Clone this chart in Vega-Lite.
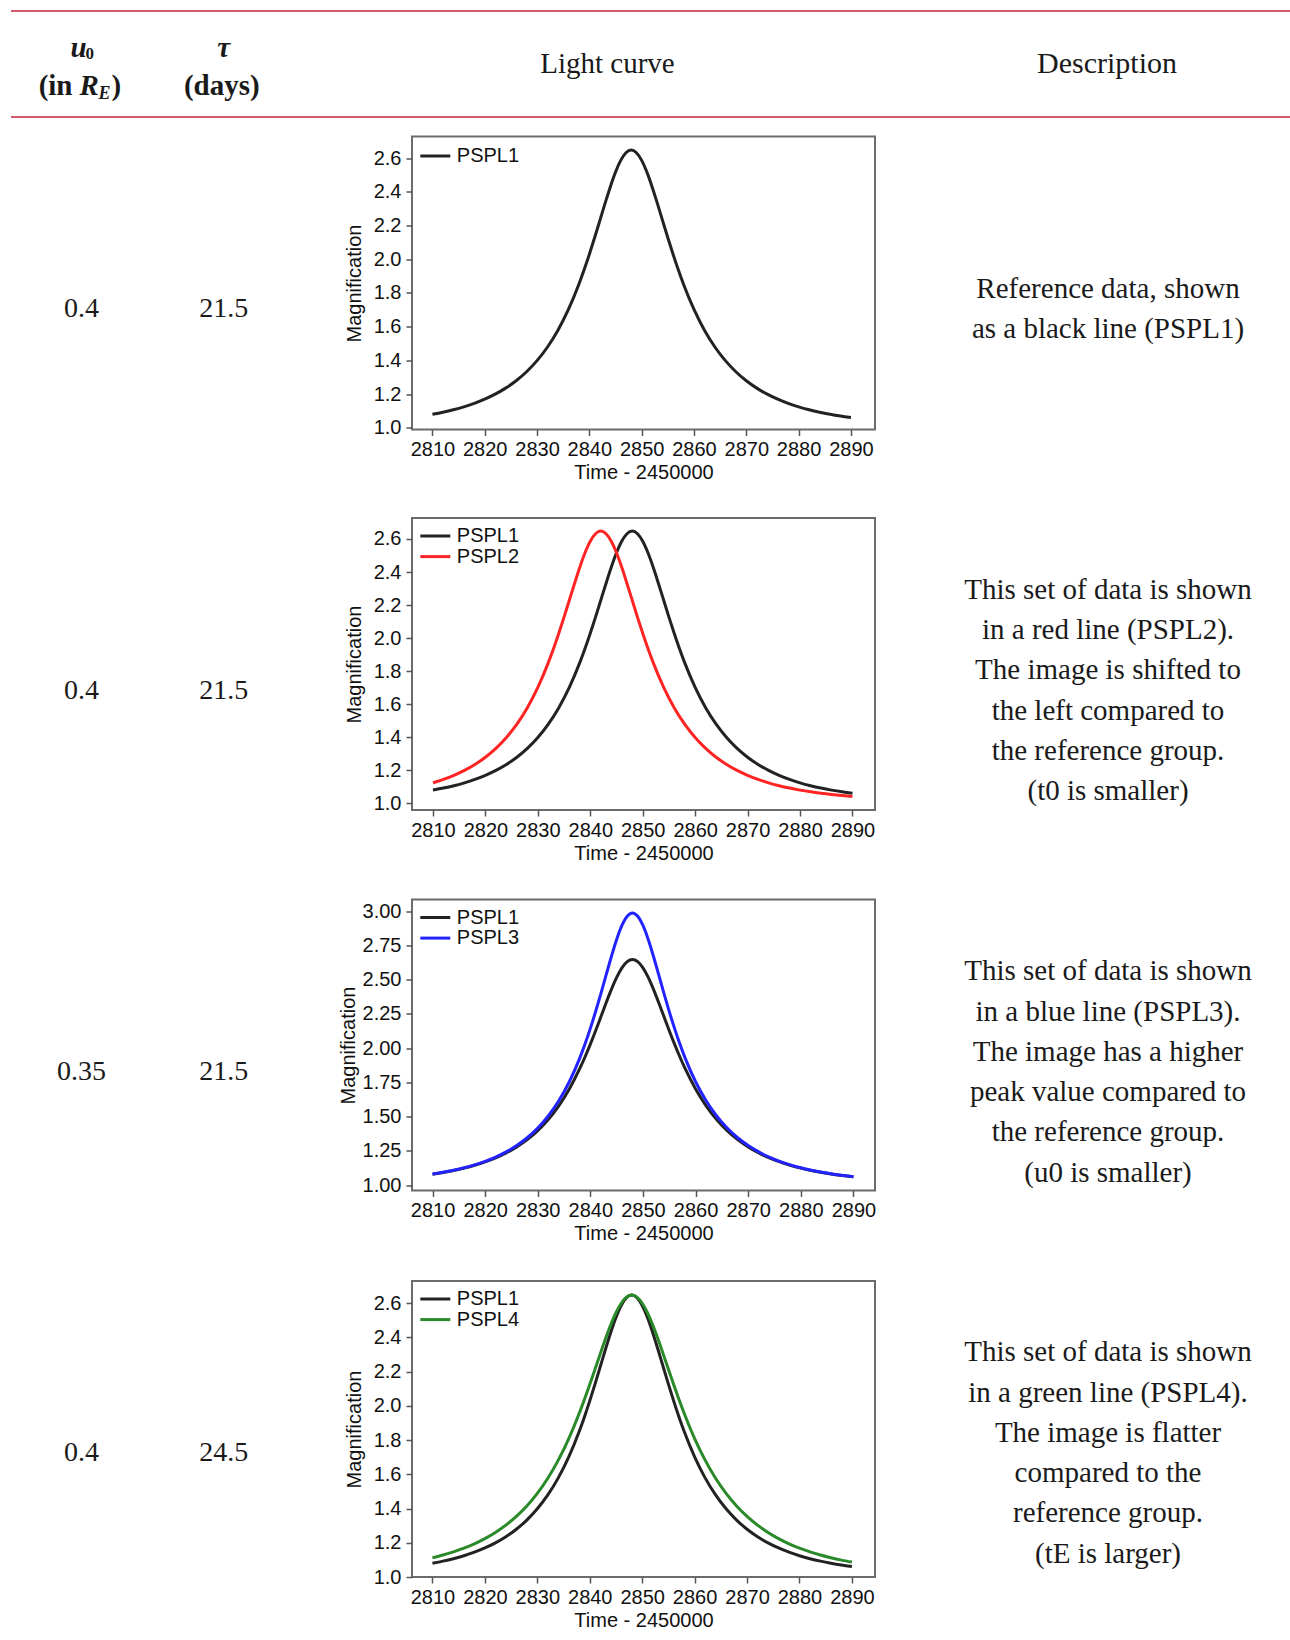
{
  "$schema": "https://vega.github.io/schema/vega-lite/v6.json",
  "background": "white",
  "padding": {"left": 10, "top": 10, "right": 0, "bottom": 0},
  "columns": 3,
  "spacing": {"row": 19.5, "column": 0},
  "bounds": "flush",
  "align": "each",
  "resolve": {"scale": {"x": "independent", "y": "independent", "color": "independent"}, "legend": {"color": "independent"}},
  "config": {
    "view": {"stroke": null},
    "text": {"font": "Liberation Serif", "color": "#1a1a1a"},
    "axis": {
      "domain": false, "grid": false,
      "labelFont": "Liberation Sans", "labelFontSize": 20, "labelColor": "#111111", "labelPadding": 5,
      "labelOverlap": false, "labelFlush": false,
      "titleFont": "Liberation Sans", "titleFontSize": 20, "titleFontWeight": "normal", "titleColor": "#111111",
      "tickColor": "#555555", "tickSize": 6, "tickWidth": 1.5
    },
    "axisX": {"titlePadding": 3, "labelPadding": 4},
    "axisY": {"titlePadding": 9}
  },
  "datasets": {
    "edges": [{"edge": "top"}, {"edge": "bottom"}],
    "hdr": [
      {"p": "main", "col": "u0", "t": "u"},
      {"p": "main", "col": "tau", "t": "τ"},
      {"p": "sub0", "col": "u0", "t": "0"},
      {"p": "in", "col": "u0", "t": "(in"},
      {"p": "R", "col": "u0", "t": "R"},
      {"p": "E", "col": "u0", "t": "E"},
      {"p": "close", "col": "u0", "t": ")"},
      {"p": "days", "col": "tau", "t": "(days)"}
    ],
    "params": [
      {"row": 1, "col": "u0", "v": "0.4"}, {"row": 1, "col": "tau", "v": "21.5"},
      {"row": 2, "col": "u0", "v": "0.4"}, {"row": 2, "col": "tau", "v": "21.5"},
      {"row": 3, "col": "u0", "v": "0.35"}, {"row": 3, "col": "tau", "v": "21.5"},
      {"row": 4, "col": "u0", "v": "0.4"}, {"row": 4, "col": "tau", "v": "24.5"}
    ],
    "desc": [
      {"row": 1, "d": "Reference data, shown\nas a black line (PSPL1)"},
      {"row": 2, "d": "This set of data is shown\nin a red line (PSPL2).\nThe image is shifted to\nthe left compared to\nthe reference group.\n(t0 is smaller)"},
      {"row": 3, "d": "This set of data is shown\nin a blue line (PSPL3).\nThe image has a higher\npeak value compared to\nthe reference group.\n(u0 is smaller)"},
      {"row": 4, "d": "This set of data is shown\nin a green line (PSPL4).\nThe image is flatter\ncompared to the\nreference group.\n(tE is larger)"}
    ],
    "curves": [
      {"s":"PSPL1","t":2810,"m":1.0804},{"s":"PSPL1","t":2812,"m":1.0926},{"s":"PSPL1","t":2814,"m":1.1071},{"s":"PSPL1","t":2816,"m":1.1243},{"s":"PSPL1","t":2818,"m":1.1449},{"s":"PSPL1","t":2820,"m":1.1696},{"s":"PSPL1","t":2822,"m":1.1994},{"s":"PSPL1","t":2824,"m":1.2354},{"s":"PSPL1","t":2826,"m":1.2792},{"s":"PSPL1","t":2828,"m":1.3328},{"s":"PSPL1","t":2830,"m":1.3985},{"s":"PSPL1","t":2832,"m":1.4795},{"s":"PSPL1","t":2834,"m":1.5793},{"s":"PSPL1","t":2836,"m":1.7021},{"s":"PSPL1","t":2838,"m":1.8517},{"s":"PSPL1","t":2839,"m":1.9371},{"s":"PSPL1","t":2840,"m":2.0293},{"s":"PSPL1","t":2841,"m":2.1272},{"s":"PSPL1","t":2842,"m":2.2289},{"s":"PSPL1","t":2843,"m":2.3310},{"s":"PSPL1","t":2844,"m":2.4290},{"s":"PSPL1","t":2845,"m":2.5165},{"s":"PSPL1","t":2846,"m":2.5864},{"s":"PSPL1","t":2847,"m":2.6318},{"s":"PSPL1","t":2848,"m":2.6476},{"s":"PSPL1","t":2849,"m":2.6318},{"s":"PSPL1","t":2850,"m":2.5864},{"s":"PSPL1","t":2851,"m":2.5165},{"s":"PSPL1","t":2852,"m":2.4290},{"s":"PSPL1","t":2853,"m":2.3310},{"s":"PSPL1","t":2854,"m":2.2289},{"s":"PSPL1","t":2855,"m":2.1272},{"s":"PSPL1","t":2856,"m":2.0293},{"s":"PSPL1","t":2857,"m":1.9371},{"s":"PSPL1","t":2858,"m":1.8517},{"s":"PSPL1","t":2860,"m":1.7021},{"s":"PSPL1","t":2862,"m":1.5793},{"s":"PSPL1","t":2864,"m":1.4795},{"s":"PSPL1","t":2866,"m":1.3985},{"s":"PSPL1","t":2868,"m":1.3328},{"s":"PSPL1","t":2870,"m":1.2792},{"s":"PSPL1","t":2872,"m":1.2354},{"s":"PSPL1","t":2874,"m":1.1994},{"s":"PSPL1","t":2876,"m":1.1696},{"s":"PSPL1","t":2878,"m":1.1449},{"s":"PSPL1","t":2880,"m":1.1243},{"s":"PSPL1","t":2882,"m":1.1071},{"s":"PSPL1","t":2884,"m":1.0926},{"s":"PSPL1","t":2886,"m":1.0804},{"s":"PSPL1","t":2888,"m":1.0700},{"s":"PSPL1","t":2890,"m":1.0612},
      {"s":"PSPL2","t":2810,"m":1.1243},{"s":"PSPL2","t":2812,"m":1.1449},{"s":"PSPL2","t":2814,"m":1.1696},{"s":"PSPL2","t":2816,"m":1.1994},{"s":"PSPL2","t":2818,"m":1.2354},{"s":"PSPL2","t":2820,"m":1.2792},{"s":"PSPL2","t":2822,"m":1.3328},{"s":"PSPL2","t":2824,"m":1.3985},{"s":"PSPL2","t":2826,"m":1.4795},{"s":"PSPL2","t":2828,"m":1.5793},{"s":"PSPL2","t":2830,"m":1.7021},{"s":"PSPL2","t":2832,"m":1.8517},{"s":"PSPL2","t":2833,"m":1.9371},{"s":"PSPL2","t":2834,"m":2.0293},{"s":"PSPL2","t":2835,"m":2.1272},{"s":"PSPL2","t":2836,"m":2.2289},{"s":"PSPL2","t":2837,"m":2.3310},{"s":"PSPL2","t":2838,"m":2.4290},{"s":"PSPL2","t":2839,"m":2.5165},{"s":"PSPL2","t":2840,"m":2.5864},{"s":"PSPL2","t":2841,"m":2.6318},{"s":"PSPL2","t":2842,"m":2.6476},{"s":"PSPL2","t":2843,"m":2.6318},{"s":"PSPL2","t":2844,"m":2.5864},{"s":"PSPL2","t":2845,"m":2.5165},{"s":"PSPL2","t":2846,"m":2.4290},{"s":"PSPL2","t":2847,"m":2.3310},{"s":"PSPL2","t":2848,"m":2.2289},{"s":"PSPL2","t":2849,"m":2.1272},{"s":"PSPL2","t":2850,"m":2.0293},{"s":"PSPL2","t":2851,"m":1.9371},{"s":"PSPL2","t":2852,"m":1.8517},{"s":"PSPL2","t":2854,"m":1.7021},{"s":"PSPL2","t":2856,"m":1.5793},{"s":"PSPL2","t":2858,"m":1.4795},{"s":"PSPL2","t":2860,"m":1.3985},{"s":"PSPL2","t":2862,"m":1.3328},{"s":"PSPL2","t":2864,"m":1.2792},{"s":"PSPL2","t":2866,"m":1.2354},{"s":"PSPL2","t":2868,"m":1.1994},{"s":"PSPL2","t":2870,"m":1.1696},{"s":"PSPL2","t":2872,"m":1.1449},{"s":"PSPL2","t":2874,"m":1.1243},{"s":"PSPL2","t":2876,"m":1.1071},{"s":"PSPL2","t":2878,"m":1.0926},{"s":"PSPL2","t":2880,"m":1.0804},{"s":"PSPL2","t":2882,"m":1.0700},{"s":"PSPL2","t":2884,"m":1.0612},{"s":"PSPL2","t":2886,"m":1.0537},{"s":"PSPL2","t":2888,"m":1.0472},{"s":"PSPL2","t":2890,"m":1.0416},
      {"s":"PSPL3","t":2810,"m":1.0817},{"s":"PSPL3","t":2812,"m":1.0942},{"s":"PSPL3","t":2814,"m":1.1092},{"s":"PSPL3","t":2816,"m":1.1269},{"s":"PSPL3","t":2818,"m":1.1482},{"s":"PSPL3","t":2820,"m":1.1739},{"s":"PSPL3","t":2822,"m":1.2049},{"s":"PSPL3","t":2824,"m":1.2427},{"s":"PSPL3","t":2826,"m":1.2890},{"s":"PSPL3","t":2828,"m":1.3460},{"s":"PSPL3","t":2830,"m":1.4167},{"s":"PSPL3","t":2832,"m":1.5049},{"s":"PSPL3","t":2834,"m":1.6155},{"s":"PSPL3","t":2836,"m":1.7546},{"s":"PSPL3","t":2838,"m":1.9290},{"s":"PSPL3","t":2839,"m":2.0313},{"s":"PSPL3","t":2840,"m":2.1442},{"s":"PSPL3","t":2841,"m":2.2671},{"s":"PSPL3","t":2842,"m":2.3984},{"s":"PSPL3","t":2843,"m":2.5345},{"s":"PSPL3","t":2844,"m":2.6691},{"s":"PSPL3","t":2845,"m":2.7933},{"s":"PSPL3","t":2846,"m":2.8953},{"s":"PSPL3","t":2847,"m":2.9630},{"s":"PSPL3","t":2848,"m":2.9867},{"s":"PSPL3","t":2849,"m":2.9630},{"s":"PSPL3","t":2850,"m":2.8953},{"s":"PSPL3","t":2851,"m":2.7933},{"s":"PSPL3","t":2852,"m":2.6691},{"s":"PSPL3","t":2853,"m":2.5345},{"s":"PSPL3","t":2854,"m":2.3984},{"s":"PSPL3","t":2855,"m":2.2671},{"s":"PSPL3","t":2856,"m":2.1442},{"s":"PSPL3","t":2857,"m":2.0313},{"s":"PSPL3","t":2858,"m":1.9290},{"s":"PSPL3","t":2860,"m":1.7546},{"s":"PSPL3","t":2862,"m":1.6155},{"s":"PSPL3","t":2864,"m":1.5049},{"s":"PSPL3","t":2866,"m":1.4167},{"s":"PSPL3","t":2868,"m":1.3460},{"s":"PSPL3","t":2870,"m":1.2890},{"s":"PSPL3","t":2872,"m":1.2427},{"s":"PSPL3","t":2874,"m":1.2049},{"s":"PSPL3","t":2876,"m":1.1739},{"s":"PSPL3","t":2878,"m":1.1482},{"s":"PSPL3","t":2880,"m":1.1269},{"s":"PSPL3","t":2882,"m":1.1092},{"s":"PSPL3","t":2884,"m":1.0942},{"s":"PSPL3","t":2886,"m":1.0817},{"s":"PSPL3","t":2888,"m":1.0711},{"s":"PSPL3","t":2890,"m":1.0620},
      {"s":"PSPL4","t":2810,"m":1.1124},{"s":"PSPL4","t":2812,"m":1.1283},{"s":"PSPL4","t":2814,"m":1.1468},{"s":"PSPL4","t":2816,"m":1.1685},{"s":"PSPL4","t":2818,"m":1.1941},{"s":"PSPL4","t":2820,"m":1.2244},{"s":"PSPL4","t":2822,"m":1.2603},{"s":"PSPL4","t":2824,"m":1.3030},{"s":"PSPL4","t":2826,"m":1.3541},{"s":"PSPL4","t":2828,"m":1.4152},{"s":"PSPL4","t":2830,"m":1.4887},{"s":"PSPL4","t":2832,"m":1.5770},{"s":"PSPL4","t":2834,"m":1.6830},{"s":"PSPL4","t":2836,"m":1.8092},{"s":"PSPL4","t":2838,"m":1.9572},{"s":"PSPL4","t":2839,"m":2.0390},{"s":"PSPL4","t":2840,"m":2.1251},{"s":"PSPL4","t":2841,"m":2.2142},{"s":"PSPL4","t":2842,"m":2.3041},{"s":"PSPL4","t":2843,"m":2.3919},{"s":"PSPL4","t":2844,"m":2.4736},{"s":"PSPL4","t":2845,"m":2.5446},{"s":"PSPL4","t":2846,"m":2.6000},{"s":"PSPL4","t":2847,"m":2.6354},{"s":"PSPL4","t":2848,"m":2.6476},{"s":"PSPL4","t":2849,"m":2.6354},{"s":"PSPL4","t":2850,"m":2.6000},{"s":"PSPL4","t":2851,"m":2.5446},{"s":"PSPL4","t":2852,"m":2.4736},{"s":"PSPL4","t":2853,"m":2.3919},{"s":"PSPL4","t":2854,"m":2.3041},{"s":"PSPL4","t":2855,"m":2.2142},{"s":"PSPL4","t":2856,"m":2.1251},{"s":"PSPL4","t":2857,"m":2.0390},{"s":"PSPL4","t":2858,"m":1.9572},{"s":"PSPL4","t":2860,"m":1.8092},{"s":"PSPL4","t":2862,"m":1.6830},{"s":"PSPL4","t":2864,"m":1.5770},{"s":"PSPL4","t":2866,"m":1.4887},{"s":"PSPL4","t":2868,"m":1.4152},{"s":"PSPL4","t":2870,"m":1.3541},{"s":"PSPL4","t":2872,"m":1.3030},{"s":"PSPL4","t":2874,"m":1.2603},{"s":"PSPL4","t":2876,"m":1.2244},{"s":"PSPL4","t":2878,"m":1.1941},{"s":"PSPL4","t":2880,"m":1.1685},{"s":"PSPL4","t":2882,"m":1.1468},{"s":"PSPL4","t":2884,"m":1.1283},{"s":"PSPL4","t":2886,"m":1.1124},{"s":"PSPL4","t":2888,"m":1.0988},{"s":"PSPL4","t":2890,"m":1.0871}
    ]
  },
  "concat": [
    {
      "width": 401, "height": 106,
      "layer": [
        {"data": {"name": "edges"}, "mark": {"type": "rule", "color": "#c8203c", "strokeWidth": 1.5},
         "encoding": {"y": {"field": "edge", "type": "nominal", "scale": {"type": "point", "domain": ["top", "bottom"], "padding": 0}, "axis": null}}},
        {"data": {"name": "hdr"}, "transform": [{"filter": "datum.p === 'main'"}],
         "mark": {"type": "text", "fontSize": 29, "fontWeight": "bold", "fontStyle": "italic", "baseline": "alphabetic", "align": "center", "dy": -6.75},
         "encoding": {"x": {"field": "col", "type": "nominal", "scale": {"type": "point", "domain": ["u0", "tau"], "range": [67.5, 212.8], "padding": 0}, "axis": null}, "text": {"field": "t", "type": "nominal"}}},
        {"data": {"name": "hdr"}, "transform": [{"filter": "datum.p === 'sub0'"}],
         "mark": {"type": "text", "fontSize": 17, "fontWeight": "bold", "baseline": "alphabetic", "align": "left", "dx": 7, "dy": -5.5},
         "encoding": {"x": {"field": "col", "type": "nominal", "scale": {"type": "point", "domain": ["u0", "tau"], "range": [67.5, 212.8], "padding": 0}, "axis": null}, "text": {"field": "t", "type": "nominal"}}},
        {"data": {"name": "hdr"}, "transform": [{"filter": "datum.p === 'in'"}],
         "mark": {"type": "text", "fontSize": 29, "fontWeight": "bold", "baseline": "alphabetic", "align": "right", "dx": -6, "dy": 31.25},
         "encoding": {"x": {"field": "col", "type": "nominal", "scale": {"type": "point", "domain": ["u0", "tau"], "range": [67.5, 212.8], "padding": 0}, "axis": null}, "text": {"field": "t", "type": "nominal"}}},
        {"data": {"name": "hdr"}, "transform": [{"filter": "datum.p === 'R'"}],
         "mark": {"type": "text", "fontSize": 29, "fontWeight": "bold", "fontStyle": "italic", "baseline": "alphabetic", "align": "left", "dx": 1, "dy": 31.25},
         "encoding": {"x": {"field": "col", "type": "nominal", "scale": {"type": "point", "domain": ["u0", "tau"], "range": [67.5, 212.8], "padding": 0}, "axis": null}, "text": {"field": "t", "type": "nominal"}}},
        {"data": {"name": "hdr"}, "transform": [{"filter": "datum.p === 'E'"}],
         "mark": {"type": "text", "fontSize": 18, "fontWeight": "bold", "fontStyle": "italic", "baseline": "alphabetic", "align": "left", "dx": 20, "dy": 35},
         "encoding": {"x": {"field": "col", "type": "nominal", "scale": {"type": "point", "domain": ["u0", "tau"], "range": [67.5, 212.8], "padding": 0}, "axis": null}, "text": {"field": "t", "type": "nominal"}}},
        {"data": {"name": "hdr"}, "transform": [{"filter": "datum.p === 'close'"}],
         "mark": {"type": "text", "fontSize": 29, "fontWeight": "bold", "baseline": "alphabetic", "align": "left", "dx": 33, "dy": 31.25},
         "encoding": {"x": {"field": "col", "type": "nominal", "scale": {"type": "point", "domain": ["u0", "tau"], "range": [67.5, 212.8], "padding": 0}, "axis": null}, "text": {"field": "t", "type": "nominal"}}},
        {"data": {"name": "hdr"}, "transform": [{"filter": "datum.p === 'days'"}],
         "mark": {"type": "text", "fontSize": 29, "fontWeight": "bold", "baseline": "alphabetic", "align": "center", "dx": -2, "dy": 31.25},
         "encoding": {"x": {"field": "col", "type": "nominal", "scale": {"type": "point", "domain": ["u0", "tau"], "range": [67.5, 212.8], "padding": 0}, "axis": null}, "text": {"field": "t", "type": "nominal"}}}
      ]
    },
    {
      "width": 463, "height": 106,
      "layer": [
        {"data": {"name": "edges"}, "mark": {"type": "rule", "color": "#c8203c", "strokeWidth": 1.5},
         "encoding": {"y": {"field": "edge", "type": "nominal", "scale": {"type": "point", "domain": ["top", "bottom"], "padding": 0}, "axis": null}}},
        {"data": {"values": [{"h": "Light curve"}]},
         "mark": {"type": "text", "fontSize": 29, "baseline": "alphabetic", "align": "center", "dx": -36, "dy": 8.75},
         "encoding": {"text": {"field": "h", "type": "nominal"}}}
      ]
    },
    {
      "width": 416, "height": 106,
      "layer": [
        {"data": {"name": "edges"}, "mark": {"type": "rule", "color": "#c8203c", "strokeWidth": 1.5},
         "encoding": {"y": {"field": "edge", "type": "nominal", "scale": {"type": "point", "domain": ["top", "bottom"], "padding": 0}, "axis": null}}},
        {"data": {"values": [{"h": "Description"}]},
         "mark": {"type": "text", "fontSize": 30, "baseline": "alphabetic", "align": "center", "dx": 24, "dy": 8.75},
         "encoding": {"text": {"field": "h", "type": "nominal"}}}
      ]
    },

    {"width": 401, "height": 362, "data": {"name": "params"}, "transform": [{"filter": "datum.row === 1"}],
     "mark": {"type": "text", "fontSize": 28, "baseline": "middle", "align": "center", "dy": -8.5},
     "encoding": {"x": {"field": "col", "type": "nominal", "scale": {"type": "point", "domain": ["u0", "tau"], "range": [70.5, 212.8], "padding": 0}, "axis": null}, "text": {"field": "v", "type": "nominal"}}},
    {
      "width": 463, "height": 293,
      "view": {"stroke": "#6b6b6b", "strokeWidth": 2},
      "data": {"name": "curves"},
      "transform": [{"filter": {"field": "s", "oneOf": ["PSPL1"]}}],
      "mark": {"type": "line", "strokeWidth": 3, "interpolate": "monotone"},
      "encoding": {
        "x": {"field": "t", "type": "quantitative", "scale": {"domain": [2806.1, 2894.6], "nice": false, "zero": false},
              "axis": {"title": "Time - 2450000", "values": [2810, 2820, 2830, 2840, 2850, 2860, 2870, 2880, 2890], "format": "d"}},
        "y": {"field": "m", "type": "quantitative", "scale": {"domain": [0.99, 2.728], "nice": false, "zero": false},
              "axis": {"title": "Magnification", "values": [1, 1.2, 1.4, 1.6, 1.8, 2, 2.2, 2.4, 2.6], "format": ".1f"}},
        "color": {"field": "s", "type": "nominal", "scale": {"domain": ["PSPL1"], "range": ["#222222"]},
                  "legend": {"title": null, "orient": "none", "legendX": 13.3, "legendY": 9.5, "symbolType": "M-2,0H2", "symbolSize": 225, "symbolStrokeWidth": 3, "labelFont": "Liberation Sans", "labelFontSize": 20, "labelColor": "#111111", "labelOffset": 11.5, "rowPadding": 0.6, "padding": 0}}
      }
    },
    {"width": 416, "height": 362, "data": {"name": "desc"}, "transform": [{"filter": "datum.row === 1"}],
     "mark": {"type": "text", "fontSize": 29, "baseline": "middle", "align": "center", "lineBreak": "\n", "lineHeight": 40.3, "dx": 25, "dy": -28.65},
     "encoding": {"text": {"field": "d", "type": "nominal"}}},

    {"width": 401, "height": 362, "data": {"name": "params"}, "transform": [{"filter": "datum.row === 2"}],
     "mark": {"type": "text", "fontSize": 28, "baseline": "middle", "align": "center", "dy": -8.5},
     "encoding": {"x": {"field": "col", "type": "nominal", "scale": {"type": "point", "domain": ["u0", "tau"], "range": [70.5, 212.8], "padding": 0}, "axis": null}, "text": {"field": "v", "type": "nominal"}}},
    {
      "width": 463, "height": 292,
      "view": {"stroke": "#6b6b6b", "strokeWidth": 2},
      "data": {"name": "curves"},
      "transform": [{"filter": {"field": "s", "oneOf": ["PSPL1", "PSPL2"]}}],
      "mark": {"type": "line", "strokeWidth": 3, "interpolate": "monotone"},
      "encoding": {
        "x": {"field": "t", "type": "quantitative", "scale": {"domain": [2806.0, 2894.3], "nice": false, "zero": false},
              "axis": {"title": "Time - 2450000", "values": [2810, 2820, 2830, 2840, 2850, 2860, 2870, 2880, 2890], "format": "d"}},
        "y": {"field": "m", "type": "quantitative", "scale": {"domain": [0.96, 2.727], "nice": false, "zero": false},
              "axis": {"title": "Magnification", "values": [1, 1.2, 1.4, 1.6, 1.8, 2, 2.2, 2.4, 2.6], "format": ".1f"}},
        "color": {"field": "s", "type": "nominal", "scale": {"domain": ["PSPL1", "PSPL2"], "range": ["#222222", "#ff2424"]},
                  "legend": {"title": null, "orient": "none", "legendX": 13.3, "legendY": 8, "symbolType": "M-2,0H2", "symbolSize": 225, "symbolStrokeWidth": 3, "labelFont": "Liberation Sans", "labelFontSize": 20, "labelColor": "#111111", "labelOffset": 11.5, "rowPadding": 0.6, "padding": 0}}
      }
    },
    {"width": 416, "height": 362, "data": {"name": "desc"}, "transform": [{"filter": "datum.row === 2"}],
     "mark": {"type": "text", "fontSize": 29, "baseline": "middle", "align": "center", "lineBreak": "\n", "lineHeight": 40.3, "dx": 25, "dy": -109.25},
     "encoding": {"text": {"field": "d", "type": "nominal"}}},

    {"width": 401, "height": 362, "data": {"name": "params"}, "transform": [{"filter": "datum.row === 3"}],
     "mark": {"type": "text", "fontSize": 28, "baseline": "middle", "align": "center", "dy": -8.5},
     "encoding": {"x": {"field": "col", "type": "nominal", "scale": {"type": "point", "domain": ["u0", "tau"], "range": [70.5, 212.8], "padding": 0}, "axis": null}, "text": {"field": "v", "type": "nominal"}}},
    {
      "width": 463, "height": 291,
      "view": {"stroke": "#6b6b6b", "strokeWidth": 2},
      "data": {"name": "curves"},
      "transform": [{"filter": {"field": "s", "oneOf": ["PSPL1", "PSPL3"]}}],
      "mark": {"type": "line", "strokeWidth": 3, "interpolate": "monotone"},
      "encoding": {
        "x": {"field": "t", "type": "quantitative", "scale": {"domain": [2806.1, 2894.1], "nice": false, "zero": false},
              "axis": {"title": "Time - 2450000", "values": [2810, 2820, 2830, 2840, 2850, 2860, 2870, 2880, 2890], "format": "d"}},
        "y": {"field": "m", "type": "quantitative", "scale": {"domain": [0.961, 3.085], "nice": false, "zero": false},
              "axis": {"title": "Magnification", "titlePadding": 4, "values": [1, 1.25, 1.5, 1.75, 2, 2.25, 2.5, 2.75, 3], "format": ".2f"}},
        "color": {"field": "s", "type": "nominal", "scale": {"domain": ["PSPL1", "PSPL3"], "range": ["#222222", "#2323ff"]},
                  "legend": {"title": null, "orient": "none", "legendX": 13.3, "legendY": 8, "symbolType": "M-2,0H2", "symbolSize": 225, "symbolStrokeWidth": 3, "labelFont": "Liberation Sans", "labelFontSize": 20, "labelColor": "#111111", "labelOffset": 11.5, "rowPadding": 0.6, "padding": 0}}
      }
    },
    {"width": 416, "height": 362, "data": {"name": "desc"}, "transform": [{"filter": "datum.row === 3"}],
     "mark": {"type": "text", "fontSize": 29, "baseline": "middle", "align": "center", "lineBreak": "\n", "lineHeight": 40.3, "dx": 25, "dy": -109.25},
     "encoding": {"text": {"field": "d", "type": "nominal"}}},

    {"width": 401, "height": 344, "data": {"name": "params"}, "transform": [{"filter": "datum.row === 4"}],
     "mark": {"type": "text", "fontSize": 28, "baseline": "middle", "align": "center", "dy": 0},
     "encoding": {"x": {"field": "col", "type": "nominal", "scale": {"type": "point", "domain": ["u0", "tau"], "range": [70.5, 212.8], "padding": 0}, "axis": null}, "text": {"field": "v", "type": "nominal"}}},
    {
      "width": 463, "height": 296,
      "view": {"stroke": "#6b6b6b", "strokeWidth": 2},
      "data": {"name": "curves"},
      "transform": [{"filter": {"field": "s", "oneOf": ["PSPL1", "PSPL4"]}}],
      "mark": {"type": "line", "strokeWidth": 3, "interpolate": "monotone"},
      "encoding": {
        "x": {"field": "t", "type": "quantitative", "scale": {"domain": [2806.1, 2894.4], "nice": false, "zero": false},
              "axis": {"title": "Time - 2450000", "values": [2810, 2820, 2830, 2840, 2850, 2860, 2870, 2880, 2890], "format": "d"}},
        "y": {"field": "m", "type": "quantitative", "scale": {"domain": [1.0, 2.73], "nice": false, "zero": false},
              "axis": {"title": "Magnification", "values": [1, 1.2, 1.4, 1.6, 1.8, 2, 2.2, 2.4, 2.6], "format": ".1f"}},
        "color": {"field": "s", "type": "nominal", "scale": {"domain": ["PSPL1", "PSPL4"], "range": ["#222222", "#2a8a2a"]},
                  "legend": {"title": null, "orient": "none", "legendX": 13.3, "legendY": 8, "symbolType": "M-2,0H2", "symbolSize": 225, "symbolStrokeWidth": 3, "labelFont": "Liberation Sans", "labelFontSize": 20, "labelColor": "#111111", "labelOffset": 11.5, "rowPadding": 0.6, "padding": 0}}
      }
    },
    {"width": 416, "height": 344, "data": {"name": "desc"}, "transform": [{"filter": "datum.row === 4"}],
     "mark": {"type": "text", "fontSize": 29, "baseline": "middle", "align": "center", "lineBreak": "\n", "lineHeight": 40.3, "dx": 25, "dy": -100.75},
     "encoding": {"text": {"field": "d", "type": "nominal"}}}
  ]
}
